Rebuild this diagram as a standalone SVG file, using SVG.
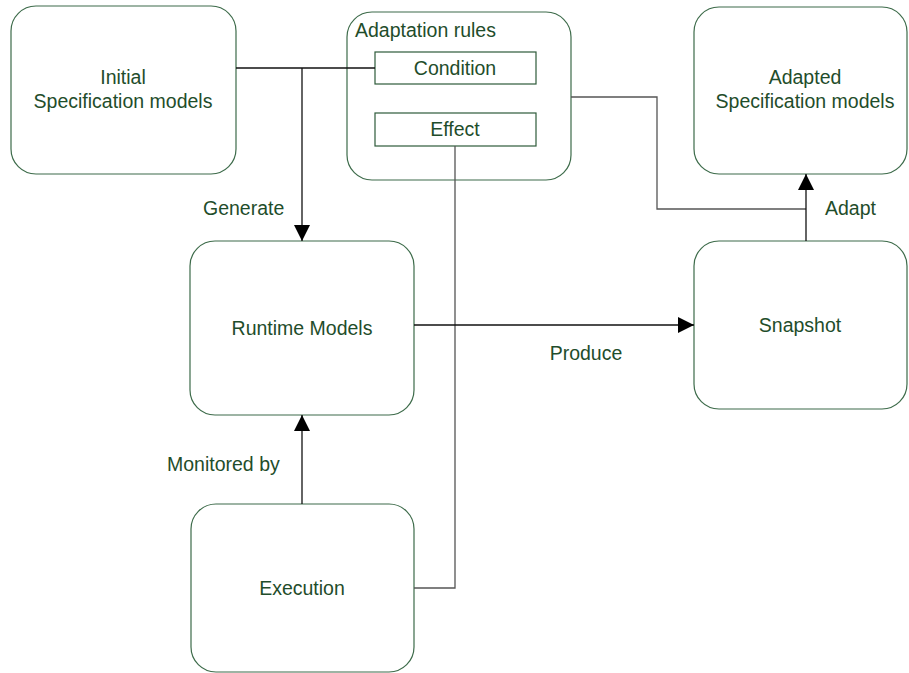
<svg xmlns="http://www.w3.org/2000/svg" width="909" height="673" viewBox="0 0 909 673">
<defs>
<style>
.node{fill:#ffffff;stroke:#3d6b4a;stroke-width:1.2}
.inner{fill:#ffffff;stroke:#2e5a3a;stroke-width:1.2}
.t{font-family:"Liberation Sans",Arial,sans-serif;font-size:19.5px;fill:#1f4d2b}
.c{text-anchor:middle}
.ln{fill:none;stroke:#111111;stroke-width:1.3}
.lg{fill:none;stroke:#555555;stroke-width:1.3}
</style>
<marker id="ah" markerWidth="16" markerHeight="16" refX="16" refY="8" orient="auto" markerUnits="userSpaceOnUse">
<path d="M0,0 L16,8 L0,16 Z" fill="#000000"/>
</marker>
</defs>
<rect width="909" height="673" fill="#ffffff"/>

<g id="initial">
<rect class="node" x="11" y="6" width="225" height="168" rx="25" ry="25"/>
<text class="t c" x="123" y="84">Initial</text>
<text class="t c" x="123" y="108">Specification models</text>
</g>

<g id="adaptation-rules">
<rect class="node" x="347" y="12" width="224" height="168" rx="25" ry="25"/>
<text class="t" x="355" y="37">Adaptation rules</text>
<g id="condition">
<rect class="inner" x="375" y="52" width="161" height="32"/>
<text class="t c" x="455" y="75">Condition</text>
</g>
<g id="effect">
<rect class="inner" x="375" y="113" width="161" height="33"/>
<text class="t c" x="455" y="136">Effect</text>
</g>
</g>

<g id="adapted">
<rect class="node" x="694" y="7" width="213" height="167" rx="25" ry="25"/>
<text class="t c" x="805" y="84">Adapted</text>
<text class="t c" x="805" y="108">Specification models</text>
</g>

<g id="runtime">
<rect class="node" x="190" y="241" width="224" height="174" rx="25" ry="25"/>
<text class="t c" x="302" y="335">Runtime Models</text>
</g>

<g id="snapshot">
<rect class="node" x="694" y="241" width="213" height="168" rx="25" ry="25"/>
<text class="t c" x="800" y="332">Snapshot</text>
</g>

<g id="execution">
<rect class="node" x="191" y="504" width="223" height="168" rx="25" ry="25"/>
<text class="t c" x="302" y="595">Execution</text>
</g>

<g id="connectors">
<path class="ln" d="M236,68 L375,68"/>
<path class="ln" d="M302,68 L302,241" marker-end="url(#ah)"/>
<path class="lg" d="M455,146 L455,588 L414,588"/>
<path class="ln" d="M414,325 L694,325" marker-end="url(#ah)"/>
<path class="lg" d="M571,97 L657,97 L657,209 L806,209"/>
<path class="ln" d="M806,241 L806,174" marker-end="url(#ah)"/>
<path class="ln" d="M302,504 L302,415" marker-end="url(#ah)"/>
</g>

<g id="labels">
<text class="t" x="203" y="215">Generate</text>
<text class="t" x="825" y="215">Adapt</text>
<text class="t" x="167" y="471">Monitored by</text>
<text class="t c" x="586" y="360">Produce</text>
</g>
</svg>
